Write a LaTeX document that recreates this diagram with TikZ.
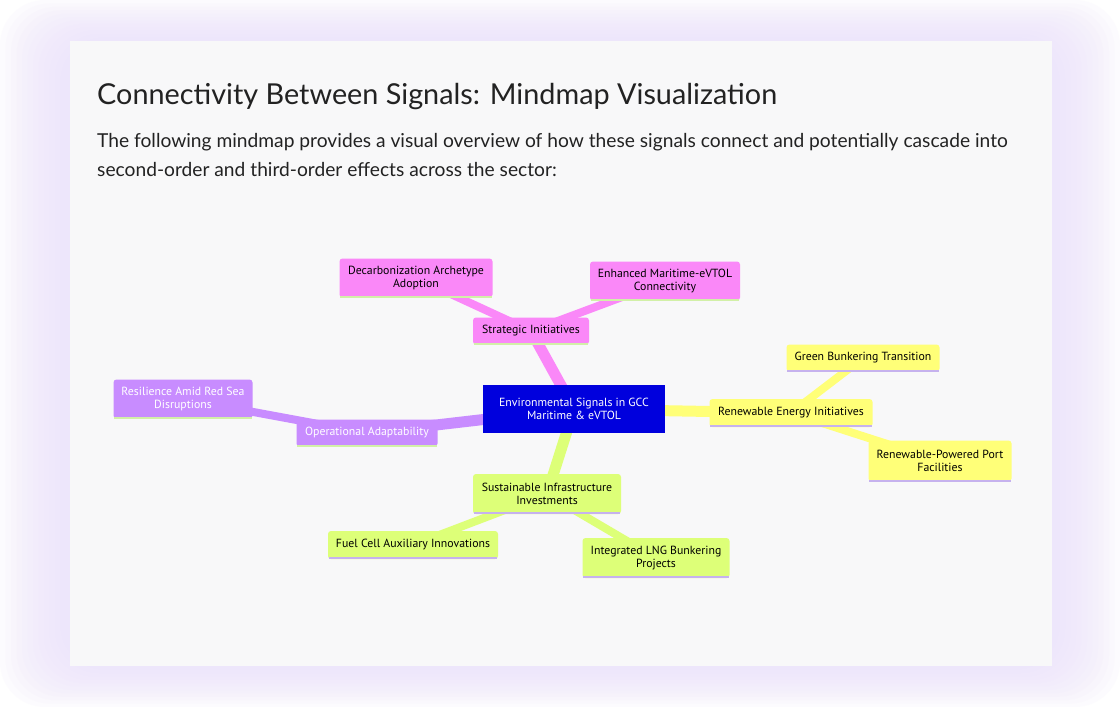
\documentclass[tikz,border=0pt]{standalone}
\usepackage{fontspec}
\setmainfont{Lato}
\newfontfamily\nodefont{PT Sans}
\definecolor{bgl}{HTML}{EDE4FB}
\definecolor{card}{HTML}{F8F8F9}
\definecolor{ink}{HTML}{222222}
\definecolor{rootc}{HTML}{0000DD}
\definecolor{pinkc}{HTML}{FA88F8}
\definecolor{purpc}{HTML}{C88CFF}
\definecolor{yelc}{HTML}{FFFF78}
\definecolor{grnc}{HTML}{DDFF78}
\definecolor{ulgreen}{HTML}{D2F0A8}
\definecolor{ullav}{HTML}{C6B2EE}
\tikzset{
  mm/.style={rounded corners=3pt, inner sep=0pt, align=center, font=\nodefont\fontsize{11.8}{13.5}\selectfont},
  edgeA/.style={line width=11pt},
  edgeB/.style={line width=8pt},
  glow/.style={fill=bgl, opacity=0.13, rounded corners=45pt},
}
\begin{document}
\begin{tikzpicture}[x=1pt,y=-1pt]
\useasboundingbox (0,0) rectangle (1120,707);
\fill[white] (0,0) rectangle (1120,707);
\foreach \k in {0,...,11}
  \fill[glow] ({5.5*\k},{3.4*\k}) rectangle ({1120-5.5*\k},{707-3.4*\k});
\fill[card] (70,41) rectangle (1052,666);
% title and text
\node[anchor=base west, inner sep=0pt, text=ink, font=\fontsize{28.8}{34}\selectfont] (title) at (97,104) {Connectivity Between Signals: Mindmap Visualization};
\node[anchor=base west, inner sep=0pt, text=ink, font=\fontsize{19.2}{22}\selectfont] (p1) at (97,147) {The following mindmap provides a visual overview of how these signals connect and potentially cascade into};
\node[anchor=base west, inner sep=0pt, text=ink, font=\fontsize{19.2}{22}\selectfont] (p2) at (97,176) {second-order and third-order effects across the sector:};
% nodes positions
\coordinate (cRoot) at (574,409);
\coordinate (cStrat) at (531,331);
\coordinate (cDecarb) at (416,278);
\coordinate (cEnh) at (665,281);
\coordinate (cOper) at (367,433);
\coordinate (cRes) at (183,399);
\coordinate (cRen) at (791,413);
\coordinate (cGreen) at (863,358);
\coordinate (cPort) at (940,461);
\coordinate (cSust) at (547,494);
\coordinate (cFuel) at (413,545);
\coordinate (cLng) at (656,558);
% edges
\draw[edgeA,pinkc] (cRoot) -- (cStrat);
\draw[edgeB,pinkc] (cStrat) -- (cDecarb);
\draw[edgeB,pinkc] (cStrat) -- (cEnh);
\draw[edgeA,purpc] (cRoot) -- (cOper);
\draw[edgeB,purpc] (cOper) -- (cRes);
\draw[edgeA,yelc] (cRoot) -- (cRen);
\draw[edgeB,yelc] (cRen) -- (cGreen);
\draw[edgeB,yelc] (cRen) -- (cPort);
\draw[edgeA,grnc] (cRoot) -- (cSust);
\draw[edgeB,grnc] (cSust) -- (cFuel);
\draw[edgeB,grnc] (cSust) -- (cLng);
% nodes
\node[mm, rounded corners=0pt, fill=rootc, text=white, minimum width=182pt, minimum height=48pt] (root) at (cRoot) {Environmental Signals in GCC\\Maritime \& eVTOL};
\node[mm, fill=pinkc, text=black, minimum width=116pt, minimum height=27pt] (strat) at (cStrat) {Strategic Initiatives};
\node[mm, fill=pinkc, text=black, minimum width=153pt, minimum height=39pt] (decarb) at (cDecarb) {Decarbonization Archetype\\Adoption};
\node[mm, fill=pinkc, text=black, minimum width=150pt, minimum height=39pt] (enh) at (cEnh) {Enhanced Maritime-eVTOL\\Connectivity};
\node[mm, fill=purpc, text=white, minimum width=141pt, minimum height=27pt] (oper) at (cOper) {Operational Adaptability};
\node[mm, fill=purpc, text=white, minimum width=139pt, minimum height=39pt] (res) at (cRes) {Resilience Amid Red Sea\\Disruptions};
\node[mm, fill=yelc, text=black, minimum width=163pt, minimum height=28pt] (ren) at (cRen) {Renewable Energy Initiatives};
\node[mm, fill=yelc, text=black, minimum width=153pt, minimum height=27pt] (green) at (cGreen) {Green Bunkering Transition};
\node[mm, fill=yelc, text=black, minimum width=143pt, minimum height=41pt] (port) at (cPort) {Renewable-Powered Port\\Facilities};
\node[mm, fill=grnc, text=black, minimum width=148pt, minimum height=40pt] (sust) at (cSust) {Sustainable Infrastructure\\Investments};
\node[mm, fill=grnc, text=black, minimum width=170pt, minimum height=28pt] (fuel) at (cFuel) {Fuel Cell Auxiliary Innovations};
\node[mm, fill=grnc, text=black, minimum width=147pt, minimum height=40pt] (lng) at (cLng) {Integrated LNG Bunkering\\Projects};
% underlines
\foreach \n in {strat,decarb,enh,oper,res}
  \draw[ulgreen, line width=1.6pt] ([xshift=1pt,yshift=1pt]\n.south west) -- ([xshift=-1pt,yshift=1pt]\n.south east);
\foreach \n in {ren,green,port,sust,fuel,lng}
  \draw[ullav, line width=1.6pt] ([xshift=1pt,yshift=1pt]\n.south west) -- ([xshift=-1pt,yshift=1pt]\n.south east);
\end{tikzpicture}
\end{document}
